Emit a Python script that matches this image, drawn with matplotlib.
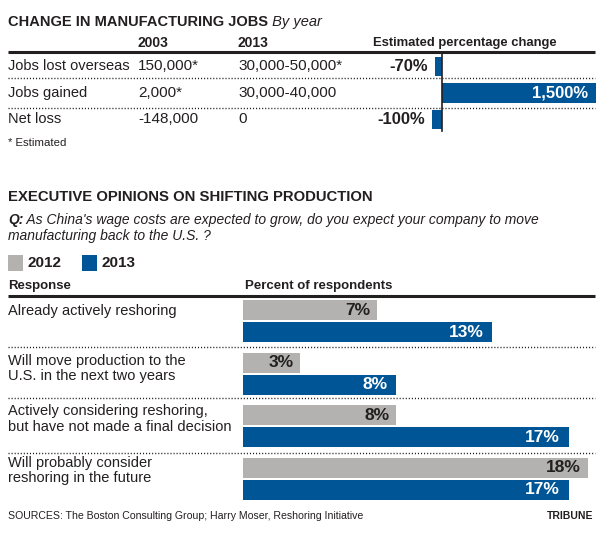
import matplotlib
matplotlib.use("Agg")
import matplotlib.pyplot as plt
from matplotlib.patches import Rectangle

plt.rcParams['font.family'] = ['Liberation Sans', 'DejaVu Sans']

# manufacturing jobs table
job_rows = ["Jobs lost overseas", "Jobs gained", "Net loss"]
jobs_2003 = ["150,000*", "2,000*", "-148,000"]
jobs_2013 = ["30,000-50,000*", "30,000-40,000", "0"]
pct_change = [-70, 1500, -100]
pct_labels = ["-70%", "1,500%", "-100%"]

# survey
responses = ["Already actively reshoring",
             "Will move production to the\nU.S. in the next two years",
             "Actively considering reshoring,\nbut have not made a final decision",
             "Will probably consider\nreshoring in the future"]
resp_2012 = [7, 3, 8, 18]
resp_2013 = [13, 8, 17, 17]

BLUE = '#005596'
GREY = '#b3b2b0'
INK = '#231f20'
W, H = 605, 536

fig = plt.figure(figsize=(W / 100, H / 100), dpi=100)
ax = fig.add_axes([0, 0, 1, 1])
ax.set_xlim(0, W)
ax.set_ylim(H, 0)
ax.axis('off')


def box(x0, y0, x1, y1):
    return [x0 / W, 1 - y1 / H, (x1 - x0) / W, (y1 - y0) / H]


def txt(x, y, s, size=10, weight='normal', style='normal', ha='left', color=INK):
    return ax.text(x, y, s, fontsize=size, fontweight=weight, fontstyle=style,
                   ha=ha, va='center', color=color)


def dotted(y):
    ax.plot([8, 595], [y, y], color=INK, lw=1, linestyle=(0, (0.8, 1.4)))


def rule(y):
    ax.plot([8, 595], [y, y], color=INK, lw=2.2, solid_capstyle='butt')


# ---- top section ----
t = txt(8, 22, "CHANGE IN MANUFACTURING JOBS", size=10.5, weight='black')
ax.annotate(" By year", xy=(1, 0), xycoords=t, va='bottom', ha='left',
            fontsize=10.5, fontstyle='italic', color=INK)

txt(138, 43, "2003", size=10, weight='bold')
txt(238, 43, "2013", size=10, weight='bold')
txt(373, 43, "Estimated percentage change", size=9.4, weight='bold')
rule(52)

row_y = [66, 93, 119]
for name, a, b, y in zip(job_rows, jobs_2003, jobs_2013, row_y):
    txt(8, y, name, size=10.5)
    txt(138, y, a, size=11)
    txt(238, y, b, size=11)
dotted(78)
dotted(108)
txt(8, 143, "* Estimated", size=8.2)

# percentage change bars, zero at x=442, ~10.27 px per 100%
ax_top = fig.add_axes(box(412, 53, 602, 133))
ax_top.set_xlim(-30 / 0.1027, 160 / 0.1027)
ax_top.set_ylim(2.5, -0.5)
ax_top.axis('off')
ax_top.barh(range(3), pct_change, height=0.73, color=BLUE)
ax_top.axvline(0, ymin=0.025, ymax=0.99, color=INK, lw=1.2)
for i, (v, lab) in enumerate(zip(pct_change, pct_labels)):
    if v > 0:
        ax_top.annotate(lab, (v, i), xytext=(-6, 0), textcoords='offset points',
                        ha='right', va='center', color='white', fontsize=12, fontweight='bold')
    else:
        ax_top.annotate(lab, (v, i), xytext=(-5, 0), textcoords='offset points',
                        ha='right', va='center', color=INK, fontsize=12, fontweight='bold')

# ---- bottom section ----
txt(8, 197, "EXECUTIVE OPINIONS ON SHIFTING PRODUCTION", size=10.7, weight='black')
q = txt(8, 220, "Q:", size=10, weight='bold', style='italic')
ax.annotate(" As China's wage costs are expected to grow, do you expect your company to move",
            xy=(1, 0), xycoords=q, va='bottom', ha='left', fontsize=10,
            fontstyle='italic', color=INK)
txt(8, 236, "manufacturing back to the U.S. ?", size=10, style='italic')

ax.add_patch(Rectangle((8, 255), 15, 16, color=GREY, lw=0))
txt(28, 263, "2012", size=11, weight='bold')
ax.add_patch(Rectangle((82, 255), 15, 16, color=BLUE, lw=0))
txt(102, 263, "2013", size=11, weight='bold')

txt(8, 286, "Response", size=9.5, weight='bold')
txt(245, 286, "Percent of respondents", size=9.5, weight='bold')
rule(296)

group_y = [312, 361, 412, 463]
for lab, y in zip(responses, group_y):
    ax.text(8, y - 7.5, lab, fontsize=10.5, ha='left', va='top', color=INK, linespacing=1.1)
dotted(347)
dotted(398)
dotted(453)

# survey bars, zero at x=243, ~19.15 px per point
ax_bot = fig.add_axes(box(243, 295, 600, 505))
ax_bot.set_xlim(0, 357 / 19.15)
ax_bot.set_ylim(3.5, -0.5)
ax_bot.axis('off')
pos = list(range(len(responses)))
off = 0.21
ax_bot.barh([p - off for p in pos], resp_2012, height=0.38, color=GREY)
ax_bot.barh([p + off for p in pos], resp_2013, height=0.38, color=BLUE)
for p, a, b in zip(pos, resp_2012, resp_2013):
    ax_bot.annotate(f"{a}%", (a, p - off), xytext=(-5, 0), textcoords='offset points',
                    ha='right', va='center', color=INK, fontsize=12.5, fontweight='bold')
    ax_bot.annotate(f"{b}%", (b, p + off), xytext=(-6, 0), textcoords='offset points',
                    ha='right', va='center', color='white', fontsize=12.5, fontweight='bold')

txt(8, 516, "SOURCES: The Boston Consulting Group; Harry Moser, Reshoring Initiative", size=7.6)
txt(593, 516, "TRIBUNE", size=7.5, weight='bold', ha='right')

fig.savefig("out.png", dpi=100)
